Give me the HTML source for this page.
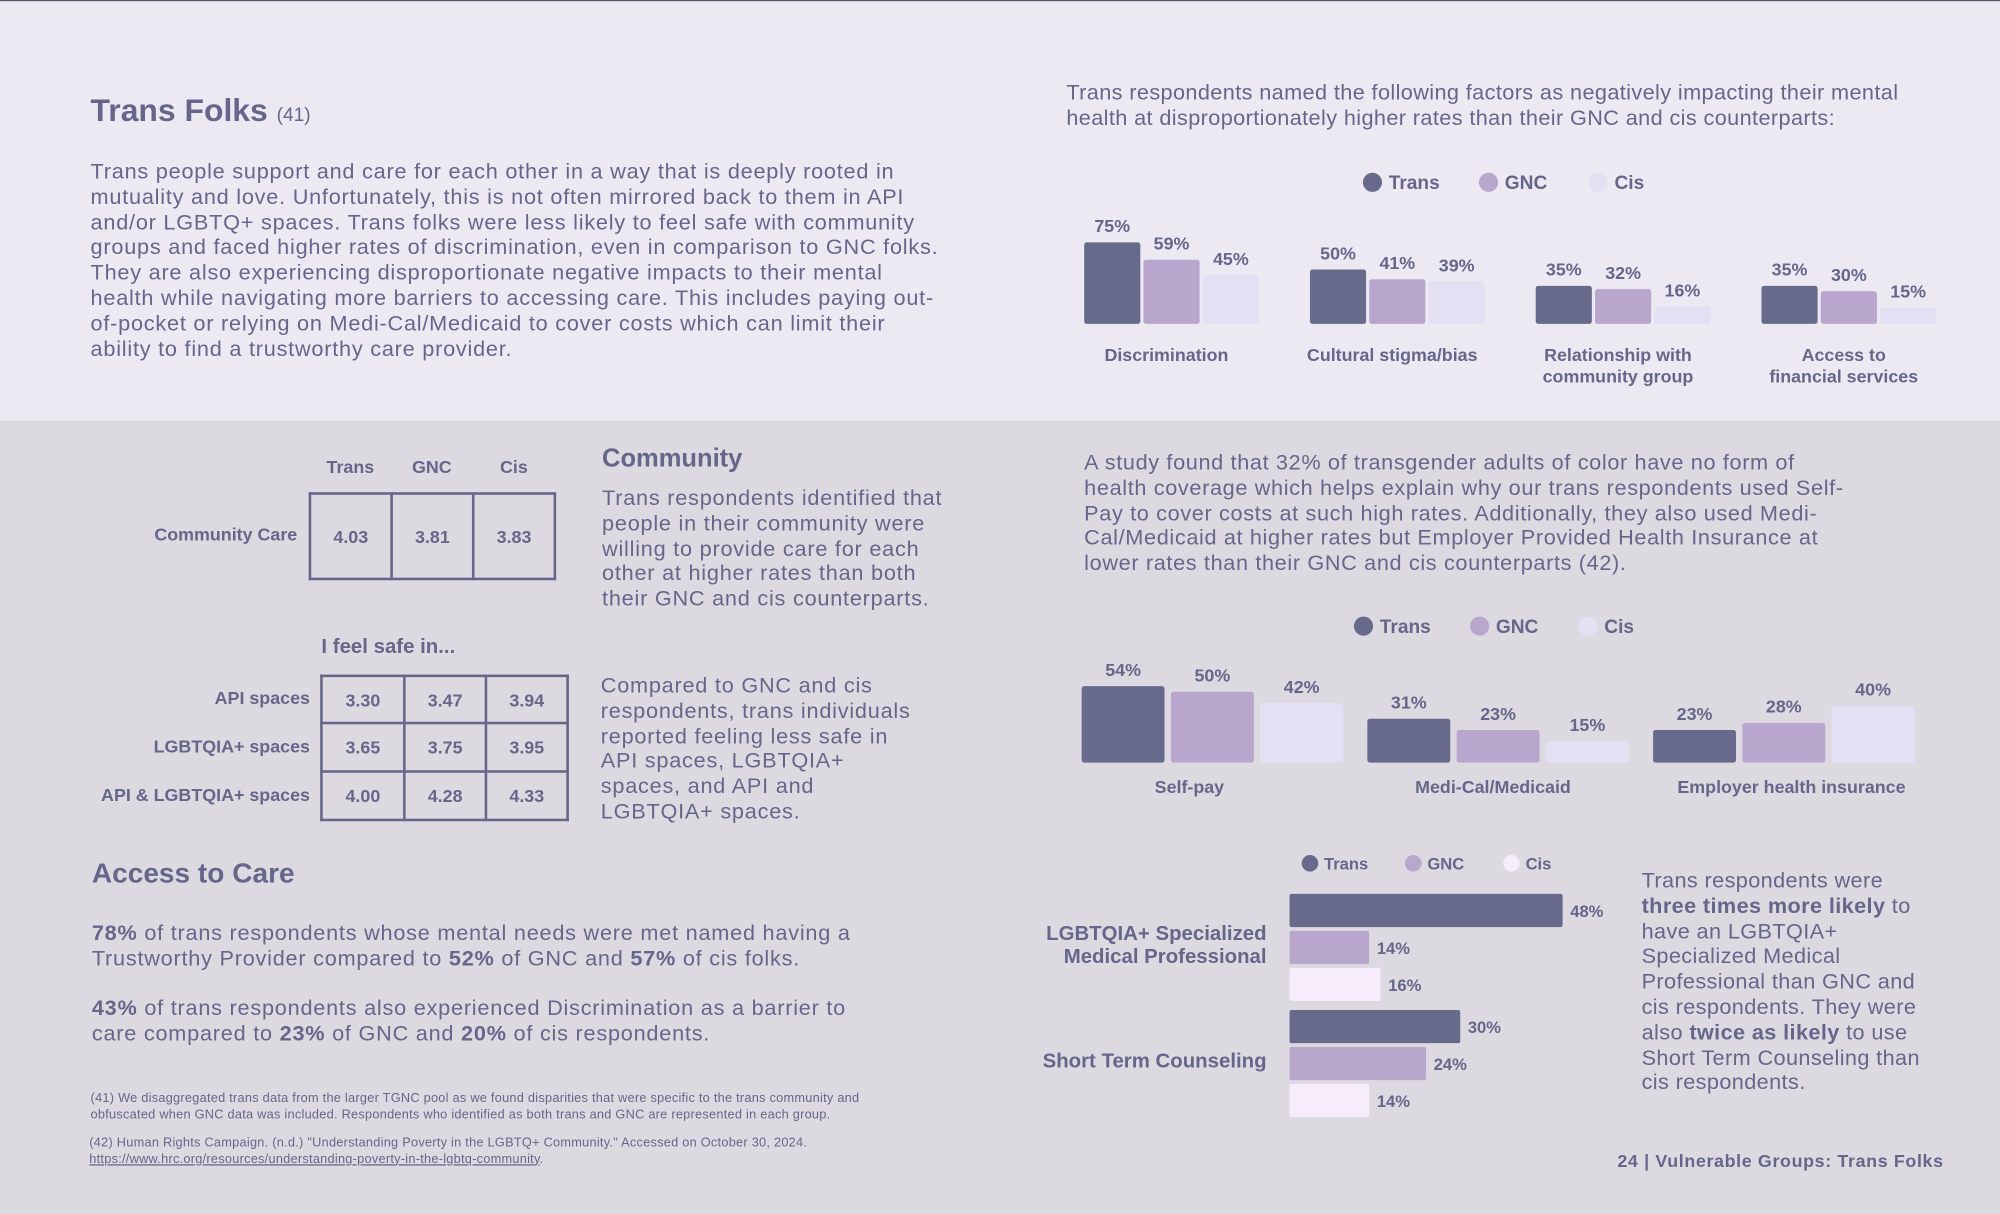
<!DOCTYPE html>
<html><head><meta charset="utf-8">
<style>
html,body{margin:0;padding:0;width:2000px;height:1214px;overflow:hidden;background:#dcd9e1}
#stage{position:absolute;left:0;top:0;width:1568px;height:952px;transform:scale(1.27551,1.27521);transform-origin:0 0;font-family:"Liberation Sans",sans-serif;color:#66668a}
.abs{position:absolute;white-space:nowrap}
.body{font-size:17px;line-height:19.8px;letter-spacing:0.6px}
.b{font-weight:bold}
table{border-collapse:collapse;position:absolute}
td{border:2px solid #66668a;text-align:center;font-weight:bold;font-size:14px;color:#66668a;padding:0}
</style></head>
<body>
<div id="stage">
<div class="abs" style="left:0;top:0;width:1568px;height:1px;background:#556"></div>
<div class="abs" style="left:0;top:1px;width:1568px;height:329px;background:#ece9f3"></div>

<div class="abs b" style="left:71px;top:73px;font-size:25px">Trans Folks <span style="font-size:15px;font-weight:normal">(41)</span></div>
<div class="abs body" style="left:71px;top:125px">Trans people support and care for each other in a way that is deeply rooted in<br>mutuality and love. Unfortunately, this is not often mirrored back to them in API<br>and/or LGBTQ+ spaces. Trans folks were less likely to feel safe with community<br>groups and faced higher rates of discrimination, even in comparison to GNC folks.<br>They are also experiencing disproportionate negative impacts to their mental<br>health while navigating more barriers to accessing care. This includes paying out-<br>of-pocket or relying on Medi-Cal/Medicaid to cover costs which can limit their<br>ability to find a trustworthy care provider.</div>

<div class="abs body" style="left:836px;top:63px;letter-spacing:0.3px">Trans respondents named the following factors as negatively impacting their mental<br>health at disproportionately higher rates than their GNC and cis counterparts:</div>

<svg class="abs" id="chart1" style="left:0;top:0" width="1568" height="330"></svg>

<div class="abs b" style="left:256px;top:358px;font-size:14px">Trans</div>
<div class="abs b" style="left:323px;top:358px;font-size:14px">GNC</div>
<div class="abs b" style="left:392px;top:358px;font-size:14px">Cis</div>
<div class="abs b" style="left:121px;top:411px;font-size:14px">Community Care</div>
<table style="left:242px;top:386px"><tr style="height:67px"><td style="width:62px">4.03</td><td style="width:62px">3.81</td><td style="width:62px">3.83</td></tr></table>

<div class="abs b" style="left:252px;top:499px;font-size:16px">I feel safe in...</div>
<div class="abs b" style="right:1325px;top:528px;font-size:14px;text-align:right;line-height:38px">API spaces<br>LGBTQIA+ spaces<br>API &amp; LGBTQIA+ spaces</div>
<table style="left:251px;top:529px">
<tr style="height:37px"><td style="width:63px">3.30</td><td style="width:62px">3.47</td><td style="width:62px">3.94</td></tr>
<tr style="height:38px"><td>3.65</td><td>3.75</td><td>3.95</td></tr>
<tr style="height:38px"><td>4.00</td><td>4.28</td><td>4.33</td></tr></table>

<div class="abs b" style="left:472px;top:349px;font-size:20px">Community</div>
<div class="abs body" style="left:472px;top:381px">Trans respondents identified that<br>people in their community were<br>willing to provide care for each<br>other at higher rates than both<br>their GNC and cis counterparts.</div>
<div class="abs body" style="left:471px;top:528px">Compared to GNC and cis<br>respondents, trans individuals<br>reported feeling less safe in<br>API spaces, LGBTQIA+<br>spaces, and API and<br>LGBTQIA+ spaces.</div>

<div class="abs b" style="left:72px;top:672px;font-size:22px">Access to Care</div>
<div class="abs body" style="left:72px;top:722px"><b>78%</b> of trans respondents whose mental needs were met named having a<br>Trustworthy Provider compared to <b>52%</b> of GNC and <b>57%</b> of cis folks.</div>
<div class="abs body" style="left:72px;top:781px"><b>43%</b> of trans respondents also experienced Discrimination as a barrier to<br>care compared to <b>23%</b> of GNC and <b>20%</b> of cis respondents.</div>

<div class="abs" style="left:71px;top:856px;font-size:10px;line-height:12.5px;letter-spacing:0.2px">(41) We disaggregated trans data from the larger TGNC pool as we found disparities that were specific to the trans community and<br>obfuscated when GNC data was included. Respondents who identified as both trans and GNC are represented in each group.</div>
<div class="abs" style="left:70px;top:891px;font-size:10px;line-height:12.5px;letter-spacing:0.2px">(42) Human Rights Campaign. (n.d.) "Understanding Poverty in the LGBTQ+ Community." Accessed on October 30, 2024.<br><span style="text-decoration:underline">https://www.hrc.org/resources/understanding-poverty-in-the-lgbtq-community</span>.</div>

<div class="abs body" style="left:850px;top:353px;letter-spacing:0.5px">A study found that 32% of transgender adults of color have no form of<br>health coverage which helps explain why our trans respondents used Self-<br>Pay to cover costs at such high rates. Additionally, they also used Medi-<br>Cal/Medicaid at higher rates but Employer Provided Health Insurance at<br>lower rates than their GNC and cis counterparts (42).</div>

<svg class="abs" id="chart2" style="left:0;top:330px" width="1568" height="310"></svg>
<svg class="abs" id="chart3" style="left:780px;top:650px" width="500" height="240"></svg>

<div class="abs body" style="left:1287px;top:681px;letter-spacing:0.3px">Trans respondents were<br><b>three times more likely</b> to<br>have an LGBTQIA+<br>Specialized Medical<br>Professional than GNC and<br>cis respondents. They were<br>also <b>twice as likely</b> to use<br>Short Term Counseling than<br>cis respondents.</div>

<div class="abs b" style="left:1268px;top:902px;font-size:14px;letter-spacing:0.5px">24 | Vulnerable Groups: Trans Folks</div>
</div>

<script>
const NS='http://www.w3.org/2000/svg';
const C1=['#686a8c','#b8a6cc','#e4e0f3'];
const C3=['#686a8c','#b8a6cc','#f6ecfb'];
const seriesNames=['Trans','GNC','Cis'];
function mk(svg,tag,attrs,text){const e=document.createElementNS(NS,tag);for(const k in attrs)e.setAttribute(k,attrs[k]);if(text!==undefined)e.textContent=text;svg.appendChild(e);return e;}
function legend(svg,y,xs,cols,fs){
  for(let i=0;i<3;i++){
    const c=mk(svg,'circle',{cx:xs[i],cy:y,r:fs*0.5,fill:cols[i]});
    
    
    const t=mk(svg,'text',{x:xs[i]+fs*0.85,y:y+fs*0.36,'font-size':fs,'font-weight':'bold',fill:'#66668a'},seriesNames[i]);
    
    
  }
}

const factorCats=[['Discrimination'],['Cultural stigma/bias'],['Relationship with','community group'],['Access to','financial services']];
const factorTrans=[75,50,35,35];
const factorGNC=[59,41,32,30];
const factorCis=[45,39,16,15];
(function(){
  const svg=document.getElementById('chart1');
  legend(svg,143,[1076,1167,1253],C1,15);
  const base=254,k=0.853,x0=850,step=177,bw=44,gap=2.5;
  const ser=[factorTrans,factorGNC,factorCis];
  factorCats.forEach((cat,g)=>{
    for(let s=0;s<3;s++){
      const v=ser[s][g],h=v*k,x=x0+g*step+s*(bw+gap);
      const r=mk(svg,'rect',{x:x,y:base-h,width:bw,height:h,rx:2,fill:C1[s]});
      
      
      const t=mk(svg,'text',{x:x+bw/2,y:base-h-8,'text-anchor':'middle','font-size':14,'font-weight':'bold',fill:'#66668a'},v+'%');
      
      
    }
    const cx=x0+g*step+(3*bw+2*gap)/2-4;
    cat.forEach((line,li)=>{
      const t=mk(svg,'text',{x:cx,y:283+li*17,'text-anchor':'middle','font-size':14,'font-weight':'bold',fill:'#66668a'},line);
      
      
    });
  });
})();

const payCats=['Self-pay','Medi-Cal/Medicaid','Employer health insurance'];
const payTrans=[54,31,23];
const payGNC=[50,23,28];
const payCis=[42,15,40];
(function(){
  const svg=document.getElementById('chart2');
  legend(svg,161,[1069,1160,1245],C1,15);
  const base=268,k=1.11,x0=848,step=224,bw=65,gap=5;
  const ser=[payTrans,payGNC,payCis];
  const labelShift=[-18,-4,6];
  payCats.forEach((cat,g)=>{
    for(let s=0;s<3;s++){
      const v=ser[s][g],h=v*k,x=x0+g*step+s*(bw+gap);
      const r=mk(svg,'rect',{x:x,y:base-h,width:bw,height:h,rx:2,fill:C1[s]});
      
      
      const t=mk(svg,'text',{x:x+bw/2,y:base-h-8,'text-anchor':'middle','font-size':14,'font-weight':'bold',fill:'#66668a'},v+'%');
      
      
    }
    const t=mk(svg,'text',{x:x0+g*step+(3*bw+2*gap)/2+labelShift[g],y:292,'text-anchor':'middle','font-size':14,'font-weight':'bold',fill:'#66668a'},cat);
    
    
  });
})();

const provCats=[['LGBTQIA+ Specialized','Medical Professional'],['Short Term Counseling']];
const provTrans=[48,30];
const provGNC=[14,24];
const provCis=[16,14];
(function(){
  const svg=document.getElementById('chart3');
  legend(svg,27,[247,328,405],C3,13);
  const x0=231,k=4.46,bh=26,y0=51,rowStep=29,grpStep=91;
  const ser=[provTrans,provGNC,provCis];
  provCats.forEach((cat,g)=>{
    for(let s=0;s<3;s++){
      const v=ser[s][g],w=v*k,y=y0+g*grpStep+s*rowStep;
      const r=mk(svg,'rect',{x:x0,y:y,width:w,height:bh,rx:1.5,fill:C3[s]});
      
      
      const t=mk(svg,'text',{x:x0+w+6,y:y+bh/2+5,'font-size':13,'font-weight':'bold',fill:'#66668a'},v+'%');
      
      
    }
    const cy=y0+g*grpStep+rowStep+bh/2-3;
    cat.forEach((line,li)=>{
      const t=mk(svg,'text',{x:x0-18,y:cy+6+(li-(cat.length-1)/2)*18,'text-anchor':'end','font-size':16,'font-weight':'bold',fill:'#66668a'},line);
      
      
    });
  });
})();
</script>
</body></html>
